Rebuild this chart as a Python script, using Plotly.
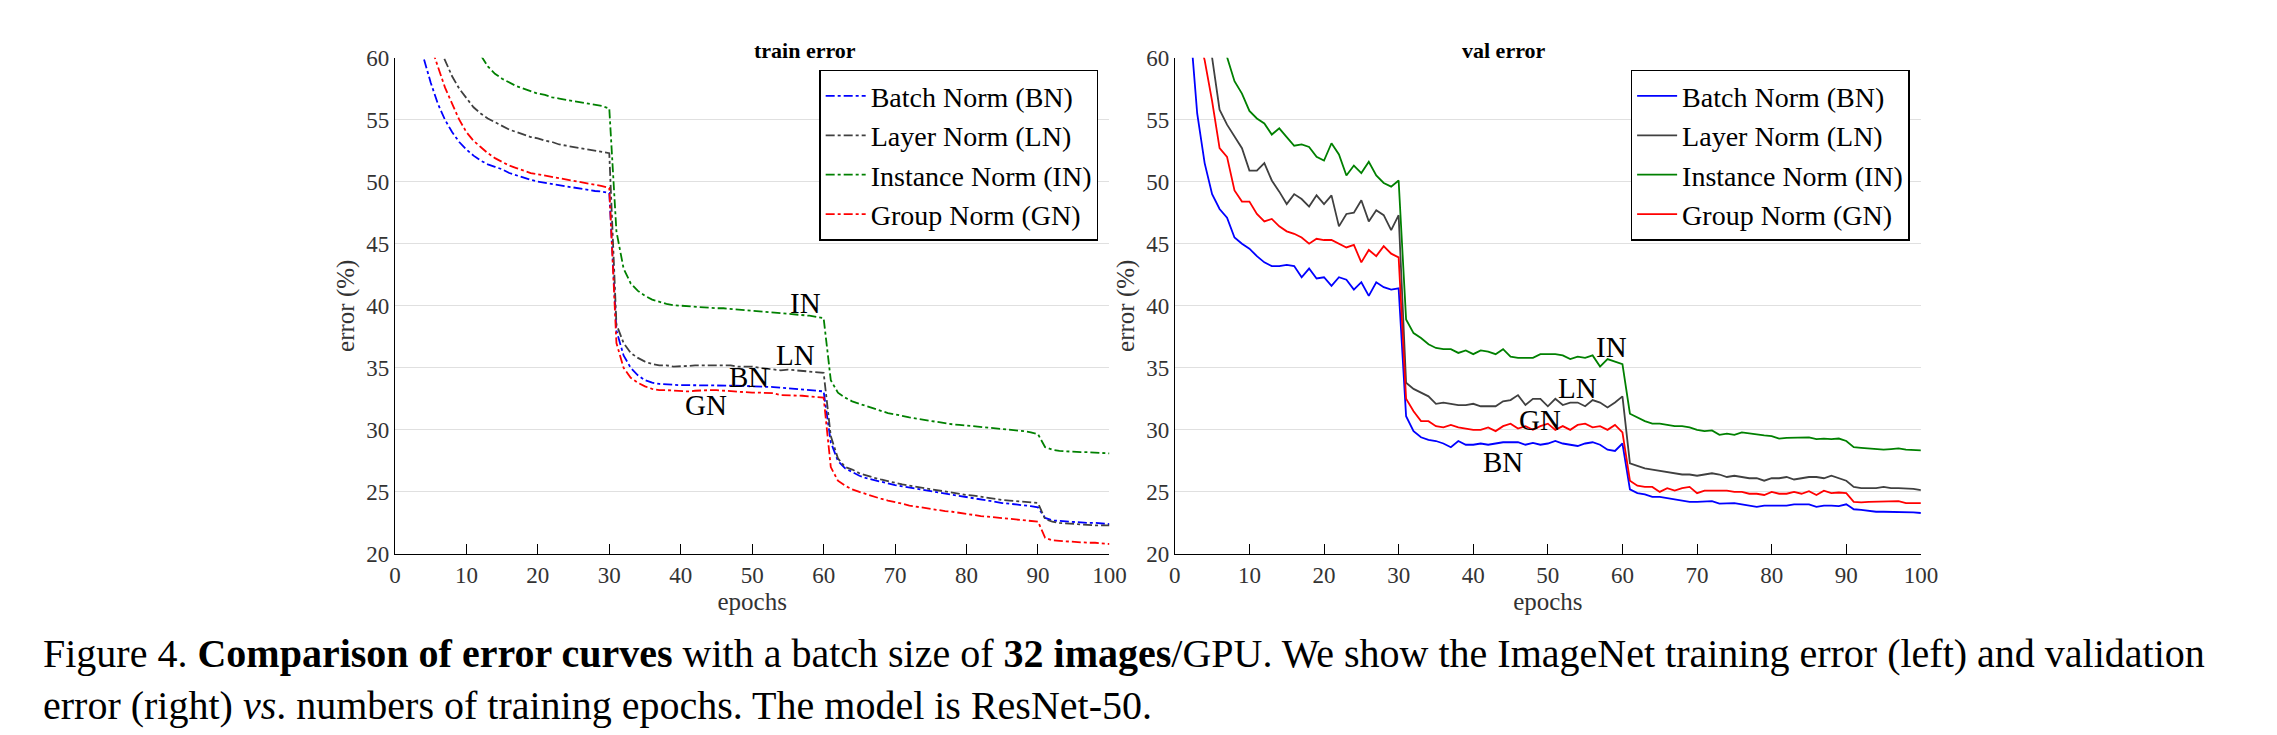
import plotly.graph_objects as go

# ---- data (error %, epochs 0..100) ----
epochs = list(range(101))

train_bn = [80, 72, 67, 63, 60,
            58.0, 56.3, 55.0, 54.0, 53.2, 52.6, 52.1, 51.7, 51.4, 51.2,
            51.0, 50.7, 50.5, 50.3, 50.15, 50.0, 49.9, 49.8, 49.7, 49.6,
            49.5, 49.4, 49.35, 49.25, 49.2, 49.1,
            38.0, 36.0, 35.0, 34.4, 34.0, 33.8, 33.7, 33.65, 33.6, 33.6,
            33.6, 33.6, 33.6, 33.6, 33.6, 33.6, 33.6, 33.55, 33.55, 33.5,
            33.5, 33.45, 33.45, 33.4, 33.35, 33.3, 33.25, 33.2, 33.15, 33.1,
            29.0, 27.5, 26.9, 26.6, 26.3, 26.1, 25.95, 25.8, 25.7, 25.55,
            25.45, 25.35, 25.25, 25.15, 25.05, 24.95, 24.85, 24.75, 24.65, 24.55,
            24.45, 24.4, 24.3, 24.2, 24.1, 24.05, 24.0, 23.9, 23.85, 23.75,
            22.9, 22.7, 22.65, 22.6, 22.6, 22.55, 22.5, 22.5, 22.45, 22.4]
train_ln = [90, 82, 76, 70, 66,
            63, 61, 59.8, 58.5, 57.5, 56.7, 56.0, 55.5, 55.1, 54.8,
            54.5, 54.2, 54.0, 53.8, 53.6, 53.5, 53.3, 53.2, 53.0, 52.9,
            52.8, 52.7, 52.6, 52.5, 52.45, 52.3,
            38.5, 37.0, 36.2, 35.8, 35.5, 35.3, 35.2, 35.2, 35.1, 35.1,
            35.15, 35.2, 35.2, 35.15, 35.15, 35.2, 35.2, 35.1, 35.1, 35.1,
            35.0, 34.95, 34.9, 34.8, 34.85, 34.8, 34.7, 34.7, 34.65, 34.6,
            29.5, 27.7, 27.0, 26.8, 26.5, 26.3, 26.15, 26.0, 25.85, 25.75,
            25.6, 25.5, 25.4, 25.3, 25.2, 25.1, 25.0, 24.9, 24.85, 24.75,
            24.7, 24.6, 24.5, 24.45, 24.35, 24.3, 24.25, 24.2, 24.15, 24.1,
            22.8, 22.6, 22.5, 22.45, 22.4, 22.35, 22.35, 22.3, 22.3, 22.3]
train_in = [100, 95, 90, 85, 80,
            76, 72.5, 69.5, 67, 65, 63, 61.5, 60.2, 59.3, 58.7,
            58.3, 58.0, 57.7, 57.5, 57.3, 57.1, 57.0, 56.8, 56.7, 56.6,
            56.5, 56.4, 56.3, 56.2, 56.1, 55.9,
            46.0, 43.0, 41.8, 41.2, 40.8, 40.5, 40.3, 40.15, 40.05, 40.0,
            40.0, 39.95, 39.9, 39.85, 39.8, 39.8, 39.75, 39.7, 39.65, 39.6,
            39.6, 39.55, 39.5, 39.4, 39.35, 39.3, 39.25, 39.2, 39.1, 39.0,
            34.0, 33.0, 32.6, 32.3, 32.1, 31.9, 31.7, 31.5, 31.35, 31.25,
            31.1, 31.0, 30.9, 30.8, 30.7, 30.65, 30.55, 30.45, 30.4, 30.35,
            30.3, 30.25, 30.2, 30.1, 30.05, 30.0, 29.95, 29.9, 29.8, 29.65,
            28.6, 28.4, 28.3, 28.25, 28.25, 28.2, 28.2, 28.15, 28.1, 28.1]
train_gn = [85, 76, 70, 66, 63,
            61, 59.3, 57.6, 56.3, 55.0, 54.0, 53.3, 52.8, 52.3, 51.9,
            51.6, 51.3, 51.1, 50.9, 50.7, 50.6, 50.5, 50.4, 50.3, 50.2,
            50.1, 49.95, 49.85, 49.75, 49.65, 49.5,
            37.0, 35.0, 34.2, 33.8, 33.5, 33.3, 33.2, 33.2, 33.15, 33.1,
            33.1, 33.15, 33.2, 33.2, 33.2, 33.15, 33.1, 33.1, 33.05, 33.0,
            33.0, 32.95, 32.95, 32.8, 32.8, 32.75, 32.75, 32.7, 32.65, 32.6,
            27.0, 25.9, 25.5, 25.2, 25.0, 24.8, 24.6, 24.45, 24.3, 24.2,
            24.05, 23.9, 23.8, 23.7, 23.6, 23.5, 23.45, 23.4, 23.3, 23.2,
            23.1, 23.05, 23.0, 22.95, 22.9, 22.85, 22.8, 22.75, 22.7, 22.6,
            21.3, 21.1, 21.05, 21.0, 21.0, 20.95, 20.9, 20.9, 20.85, 20.8]

val_bn = [80, 72, 63, 55.5, 51.5,
          49.0, 47.8, 47.1, 45.5, 45.0, 44.6, 44.0, 43.5, 43.2, 43.2,
          43.3, 43.2, 42.3, 43.0, 42.2, 42.3, 41.6, 42.3, 42.1, 41.3,
          41.9, 40.8, 41.9, 41.5, 41.3, 41.4,
          31.1, 29.9, 29.4, 29.2, 29.1, 28.9, 28.6, 29.1, 28.8, 28.8,
          28.9, 28.8, 28.9, 29.0, 29.0, 29.0, 28.8, 28.95, 28.8, 28.9,
          29.1, 28.9, 28.8, 28.7, 28.9, 29.0, 28.8, 28.4, 28.3, 28.9,
          25.2, 24.9, 24.8, 24.6, 24.6, 24.5, 24.4, 24.3, 24.2, 24.2,
          24.2, 24.25, 24.05, 24.1, 24.1, 24.0, 23.9, 23.8, 23.9, 23.9,
          23.85, 23.9, 24.0, 24.0, 24.0, 23.8, 23.9, 23.9, 23.85, 24.0,
          23.6, 23.55, 23.45, 23.4, 23.4, 23.4, 23.4, 23.35, 23.35, 23.3]
val_ln = [90, 80, 72, 66, 62,
          60.0, 55.8, 54.6, 53.6, 52.7, 50.9, 50.9, 51.5, 50.1, 49.2,
          48.2, 49.0, 48.6, 48.0, 48.9, 48.2, 48.9, 46.4, 47.4, 47.5,
          48.5, 46.8, 47.7, 47.3, 46.1, 47.3,
          33.8, 33.3, 33.0, 32.7, 32.1, 32.2, 32.1, 32.0, 32.0, 32.1,
          31.9, 31.9, 31.9, 32.3, 32.4, 32.8, 32.0, 32.5, 32.5, 31.9,
          32.5, 32.0, 32.2, 32.2, 31.9, 32.4, 32.2, 31.8, 32.2, 32.7,
          27.3, 27.1, 26.9, 26.8, 26.7, 26.6, 26.5, 26.4, 26.4, 26.3,
          26.4, 26.5, 26.4, 26.2, 26.3, 26.2, 26.1, 26.1, 25.9, 26.1,
          26.1, 26.2, 26.0, 26.1, 26.2, 26.2, 26.1, 26.3, 26.1, 25.9,
          25.4, 25.3, 25.3, 25.3, 25.4, 25.3, 25.3, 25.3, 25.25, 25.15]
val_in = [100, 92, 85, 78, 72,
          66, 62, 60.0, 58.1, 57.1, 55.7, 55.1, 54.7, 53.8, 54.3,
          53.6, 52.9, 53.0, 52.8, 52.0, 51.7, 53.1, 52.2, 50.5, 51.3,
          50.7, 51.6, 50.5, 49.9, 49.6, 50.1,
          38.9, 37.8, 37.4, 36.9, 36.6, 36.5, 36.5, 36.2, 36.4, 36.1,
          36.4, 36.3, 36.1, 36.5, 35.9, 35.8, 35.8, 35.8, 36.1, 36.1,
          36.1, 36.0, 35.7, 35.9, 35.8, 36.0, 35.1, 35.7, 35.5, 35.3,
          31.3, 31.0, 30.7, 30.5, 30.5, 30.4, 30.3, 30.3, 30.2, 30.0,
          29.9, 29.95, 29.6, 29.7, 29.6, 29.8, 29.7, 29.6, 29.55, 29.5,
          29.3, 29.35, 29.35, 29.35, 29.4, 29.25, 29.3, 29.25, 29.3, 29.1,
          28.6, 28.55, 28.5, 28.4, 28.4, 28.45, 28.5, 28.4, 28.35, 28.35]
val_gn = [85, 76, 68, 62, 59.8,
          56.5, 52.7, 52.0, 49.3, 48.4, 48.4, 47.4, 46.8, 47.0, 46.4,
          46.0, 45.8, 45.5, 45.0, 45.4, 45.3, 45.3, 45.0, 44.7, 44.9,
          43.5, 44.5, 44.0, 44.8, 44.2, 43.9,
          32.5, 31.5, 30.7, 30.7, 30.3, 30.2, 30.4, 30.2, 30.1, 30.0,
          30.0, 30.2, 29.9, 30.3, 30.5, 30.1, 30.3, 30.0, 30.3, 30.5,
          30.0, 30.3, 30.0, 30.4, 30.5, 30.2, 30.3, 30.0, 30.4, 29.8,
          25.9, 25.5, 25.4, 25.4, 25.0, 25.3, 25.1, 25.3, 25.4, 24.9,
          25.1, 25.1, 25.1, 25.1, 25.0, 25.0, 24.85, 24.85, 24.75, 25.0,
          24.85, 24.85, 25.0, 24.85, 25.05, 24.75, 25.1, 24.9, 24.95, 24.9,
          24.2, 24.15, 24.2, 24.2, 24.2, 24.2, 24.25, 24.1, 24.1, 24.1]

names = ["Batch Norm (BN)", "Layer Norm (LN)", "Instance Norm (IN)", "Group Norm (GN)"]
colors = ["#0000ff", "#404040", "#008000", "#ff0000"]

train_labels = [("IN", 57.5, 40.2), ("LN", 56, 36.0), ("BN", 49.5, 34.3), ("GN", 43.5, 32.0)]
val_labels = [("IN", 58.5, 36.7), ("LN", 54, 33.4), ("GN", 49, 30.8), ("BN", 44, 27.4)]

FONT = "Liberation Serif, Times New Roman, serif"

fig = go.Figure()
for vals, nm, c in zip([train_bn, train_ln, train_in, train_gn], names, colors):
    fig.add_trace(go.Scatter(x=epochs, y=vals, mode="lines", name=nm,
                             line=dict(color=c, width=1.8, dash="dashdot"),
                             xaxis="x", yaxis="y", legend="legend"))
for vals, nm, c in zip([val_bn, val_ln, val_in, val_gn], names, colors):
    fig.add_trace(go.Scatter(x=epochs, y=vals, mode="lines", name=nm,
                             line=dict(color=c, width=1.8),
                             xaxis="x2", yaxis="y2", legend="legend2"))

axis_common = dict(range=[0, 100], dtick=10, showgrid=False, showline=True, linecolor="black",
                   ticks="inside", ticklen=10, tickcolor="black", zeroline=False,
                   tickfont=dict(size=23, color="#333"), title_font=dict(size=25, color="#333"),
                   title_standoff=2)
yaxis_common = dict(range=[20, 60], dtick=5, showgrid=True, gridcolor="#e0e0e0", showline=True,
                    linecolor="black", ticks="", zeroline=False,
                    tickfont=dict(size=23, color="#333"), title_font=dict(size=25, color="#333"),
                    title_text="error (%)", title_standoff=4)

legend_common = dict(bgcolor="white", bordercolor="black", borderwidth=1.5,
                     font=dict(size=28, family=FONT, color="black"),
                     yanchor="top", xanchor="right", y=0.93, tracegroupgap=0,
                     itemwidth=40)

fig.update_layout(
    width=2277, height=735, paper_bgcolor="white", plot_bgcolor="white",
    margin=dict(l=0, r=0, t=0, b=0), font=dict(family=FONT),
    xaxis=dict(axis_common, domain=[0.169, 0.486], anchor="y", title_text="epochs"),
    yaxis=dict(yaxis_common, domain=[0.248, 0.947], anchor="x"),
    xaxis2=dict(axis_common, domain=[0.515, 0.846], anchor="y2", title_text="epochs"),
    yaxis2=dict(yaxis_common, domain=[0.248, 0.947], anchor="x2"),
    legend=dict(legend_common, x=0.481),
    legend2=dict(legend_common, x=0.841),
)

for txt, ax, ay in train_labels:
    fig.add_annotation(x=ax, y=ay, text=txt, showarrow=False, xref="x", yref="y",
                       font=dict(size=29, color="black"))
for txt, ax, ay in val_labels:
    fig.add_annotation(x=ax, y=ay, text=txt, showarrow=False, xref="x2", yref="y2",
                       font=dict(size=29, color="black"))

fig.add_annotation(x=0.3275, y=0.978, xref="paper", yref="paper", text="<b>train error</b>",
                   showarrow=False, font=dict(size=22, color="black"))
fig.add_annotation(x=0.6805, y=0.978, xref="paper", yref="paper", text="<b>val error</b>",
                   showarrow=False, font=dict(size=22, color="black"))

fig.add_annotation(
    x=0.012, y=0.0, xref="paper", yref="paper", xanchor="left", yanchor="bottom", align="left",
    showarrow=False, font=dict(size=40, color="black"),
    text="Figure 4. <b>Comparison of error curves</b> with a batch size of <b>32 images</b>/GPU. "
         "We show the ImageNet training error (left) and validation<br>"
         "error (right) <i>vs</i>. numbers of training epochs. The model is ResNet-50.")

fig.write_html("out.html")
